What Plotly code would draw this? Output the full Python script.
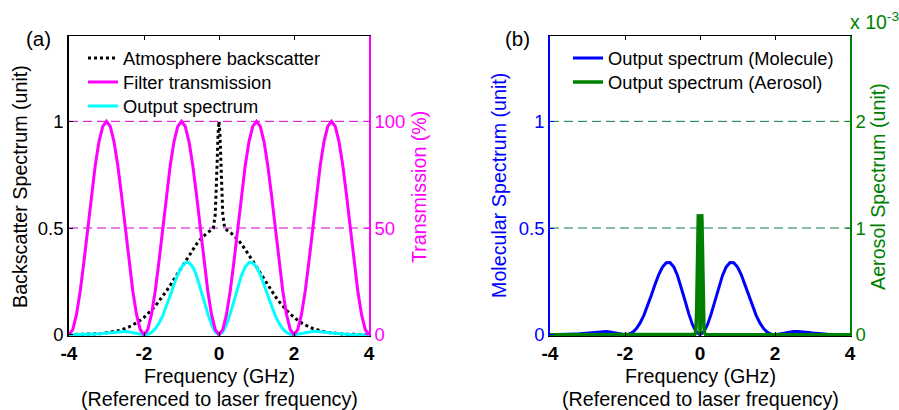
import plotly.graph_objects as go

# ---------------- data ----------------
freq = [-4.0, -3.9, -3.8, -3.7, -3.6, -3.5, -3.4, -3.3, -3.2, -3.1,
        -3.0, -2.9, -2.8, -2.7, -2.6, -2.5, -2.4, -2.3, -2.2, -2.1,
        -2.0, -1.9, -1.8, -1.7, -1.6, -1.5, -1.4, -1.3, -1.2, -1.1,
        -1.0, -0.9, -0.8, -0.7, -0.6, -0.5, -0.4, -0.3, -0.2, -0.1,
        0.0, 0.1, 0.2, 0.3, 0.4, 0.5, 0.6, 0.7, 0.8, 0.9,
        1.0, 1.1, 1.2, 1.3, 1.4, 1.5, 1.6, 1.7, 1.8, 1.9,
        2.0, 2.1, 2.2, 2.3, 2.4, 2.5, 2.6, 2.7, 2.8, 2.9,
        3.0, 3.1, 3.2, 3.3, 3.4, 3.5, 3.6, 3.7, 3.8, 3.9, 4.0]

transmission = [0, 2.4, 9.5, 20.6, 34.5, 50, 65.5, 79.4, 90.5, 97.6,
                100, 97.6, 90.5, 79.4, 65.5, 50, 34.5, 20.6, 9.5, 2.4,
                0, 2.4, 9.5, 20.6, 34.5, 50, 65.5, 79.4, 90.5, 97.6,
                100, 97.6, 90.5, 79.4, 65.5, 50, 34.5, 20.6, 9.5, 2.4,
                0, 2.4, 9.5, 20.6, 34.5, 50, 65.5, 79.4, 90.5, 97.6,
                100, 97.6, 90.5, 79.4, 65.5, 50, 34.5, 20.6, 9.5, 2.4,
                0, 2.4, 9.5, 20.6, 34.5, 50, 65.5, 79.4, 90.5, 97.6,
                100, 97.6, 90.5, 79.4, 65.5, 50, 34.5, 20.6, 9.5, 2.4, 0]

output_spectrum = [0, 0, 0.0001, 0.0002, 0.0005, 0.0010, 0.0017, 0.0028, 0.0043, 0.0061,
                   0.0084, 0.0106, 0.0128, 0.0144, 0.0151, 0.0146, 0.0126, 0.0093, 0.0053, 0.0017,
                   0, 0.0024, 0.0109, 0.0277, 0.0540, 0.0899, 0.1342, 0.1841, 0.2350, 0.2814,
                   0.3174, 0.3375, 0.3381, 0.3177, 0.2778, 0.2232, 0.1606, 0.0989, 0.0469, 0.0130,
                   0, 0.0130, 0.0469, 0.0989, 0.1606, 0.2232, 0.2778, 0.3177, 0.3381, 0.3375,
                   0.3174, 0.2814, 0.2350, 0.1841, 0.1342, 0.0899, 0.0540, 0.0277, 0.0109, 0.0024,
                   0, 0.0017, 0.0053, 0.0093, 0.0126, 0.0146, 0.0151, 0.0144, 0.0128, 0.0106,
                   0.0084, 0.0061, 0.0043, 0.0028, 0.0017, 0.0010, 0.0005, 0.0002, 0.0001, 0, 0]

bs_freq = [-4.0, -3.9, -3.8, -3.7, -3.6, -3.5, -3.4, -3.3, -3.2, -3.1,
           -3.0, -2.9, -2.8, -2.7, -2.6, -2.5, -2.4, -2.3, -2.2, -2.1,
           -2.0, -1.9, -1.8, -1.7, -1.6, -1.5, -1.4, -1.3, -1.2, -1.1,
           -1.0, -0.9, -0.8, -0.7, -0.6, -0.5, -0.4, -0.3, -0.2, -0.15,
           -0.1, -0.075, -0.05, -0.025, 0.0, 0.025, 0.05, 0.075, 0.1,
           0.15, 0.2, 0.3, 0.4, 0.5, 0.6, 0.7, 0.8, 0.9,
           1.0, 1.1, 1.2, 1.3, 1.4, 1.5, 1.6, 1.7, 1.8, 1.9,
           2.0, 2.1, 2.2, 2.3, 2.4, 2.5, 2.6, 2.7, 2.8, 2.9,
           3.0, 3.1, 3.2, 3.3, 3.4, 3.5, 3.6, 3.7, 3.8, 3.9, 4.0]
backscatter = [0.0003, 0.0005, 0.0007, 0.0010, 0.0014, 0.0019, 0.0026, 0.0035, 0.0048, 0.0063,
               0.0084, 0.0109, 0.0142, 0.0182, 0.0231, 0.0292, 0.0365, 0.0452, 0.0554, 0.0674,
               0.0812, 0.0969, 0.1146, 0.1344, 0.1562, 0.1798, 0.2051, 0.2319, 0.2598, 0.2885,
               0.3174, 0.3460, 0.3738, 0.4002, 0.4245, 0.4463, 0.4649, 0.4800, 0.4912, 0.5005,
               0.5654, 0.6610, 0.8027, 0.9411, 1.0, 0.9411, 0.8027, 0.6610, 0.5654,
               0.5005, 0.4912, 0.4800, 0.4649, 0.4463, 0.4245, 0.4002, 0.3738, 0.3460,
               0.3174, 0.2885, 0.2598, 0.2319, 0.2051, 0.1798, 0.1562, 0.1344, 0.1146, 0.0969,
               0.0812, 0.0674, 0.0554, 0.0452, 0.0365, 0.0292, 0.0231, 0.0182, 0.0142, 0.0109,
               0.0084, 0.0063, 0.0048, 0.0035, 0.0026, 0.0019, 0.0014, 0.0010, 0.0007, 0.0005, 0.0003]

molecule_output = output_spectrum

aer_freq = [-4.0, -0.15, -0.135, -0.12, -0.105, -0.09, -0.075, -0.0675, -0.06, -0.0525, -0.045,
            -0.0375, -0.03, -0.0225, -0.015, -0.0075, 0.0, 0.0075, 0.015, 0.0225, 0.03, 0.0375,
            0.045, 0.0525, 0.06, 0.0675, 0.075, 0.09, 0.105, 0.12, 0.135, 0.15, 4.0]
aerosol_output = [0, 0, 0.000004, 0.000018, 0.000073, 0.000227, 0.000534, 0.000732, 0.000925,
                  0.001073, 0.00113, 0.001064, 0.000874, 0.000597, 0.000304, 0.000083, 0,
                  0.000083, 0.000304, 0.000597, 0.000874, 0.001064, 0.00113, 0.001073,
                  0.000925, 0.000732, 0.000534, 0.000227, 0.000073, 0.000018, 0.000004, 0, 0]

x_ticks = [-4, -2, 0, 2, 4]
x_ticktext = ['-4', '-2', '0', '2', '4']
grid_levels = [0.5, 1.0]

# ---------------- layout helpers ----------------
W, H = 899, 410
def px(x):
    return x / W
def py(y):
    return 1 - y / H

FONT = "Liberation Sans, Arial, sans-serif"
FS = 18.5      # y tick labels
FT = 19.7      # titles / annotations
FL = 18.3      # legend
MAG = '#ff00ff'
CYAN = '#00ffff'
BLUE = '#0000ff'
GREEN = '#008000'

fig = go.Figure()
fig.add_trace(go.Scatter(x=bs_freq, y=backscatter, xaxis='x', yaxis='y', mode='lines',
                         name='Atmosphere backscatter', legend='legend',
                         line=dict(color='black', width=3, dash='dot')))
fig.add_trace(go.Scatter(x=freq, y=transmission, xaxis='x', yaxis='y2', mode='lines',
                         name='Filter transmission', legend='legend2',
                         line=dict(color=MAG, width=3)))
fig.add_trace(go.Scatter(x=freq, y=output_spectrum, xaxis='x', yaxis='y', mode='lines',
                         name='Output spectrum', legend='legend3',
                         line=dict(color=CYAN, width=3)))
fig.add_trace(go.Scatter(x=freq, y=molecule_output, xaxis='x2', yaxis='y3', mode='lines',
                         name='Output spectrum (Molecule)', legend='legend4',
                         line=dict(color=BLUE, width=3)))
fig.add_trace(go.Scatter(x=aer_freq, y=aerosol_output, xaxis='x2', yaxis='y4', mode='lines',
                         name='Output spectrum (Aerosol)', legend='legend5',
                         line=dict(color=GREEN, width=3.5)))

ydom = [py(336), py(36)]
common_x = dict(range=[-4, 4], tickvals=x_ticks, ticktext=x_ticktext, showline=True,
                linecolor='black', linewidth=1, mirror='ticks', ticks='inside', ticklen=4,
                tickcolor='black', showgrid=False, zeroline=False,
                tickfont=dict(family=FONT, size=19, color='black', weight='bold'))
def yax(color, rng, tv, tt, **kw):
    d = dict(range=rng, tickvals=tv, ticktext=tt, showline=True, linecolor=color,
             linewidth=1.5, ticks='inside', ticklen=4, tickcolor=color, zeroline=False,
             showgrid=False, tickfont=dict(family=FONT, size=FS, color=color))
    d.update(kw)
    return d

def leg(x, yc):
    return dict(x=px(x), y=py(yc), xanchor='left', yanchor='middle', bgcolor='rgba(0,0,0,0)',
                borderwidth=0, font=dict(family=FONT, size=FL, color='black'))

fig.update_layout(
    width=W, height=H, margin=dict(l=0, r=0, t=0, b=0, pad=0, autoexpand=False),
    paper_bgcolor='white', plot_bgcolor='white',
    font=dict(family=FONT, size=FS, color='black'),
    xaxis=dict(domain=[px(69), px(369)], anchor='y', **common_x),
    yaxis=yax('black', [-0.006, 1.4], [0, 0.5, 1], ['0', '0.5', '1'], domain=ydom, anchor='x'),
    yaxis2=yax(MAG, [-0.6, 140], [0, 50, 100], ['0', '50', '100'],
               overlaying='y', side='right', anchor='x'),
    xaxis2=dict(domain=[px(550), px(850)], anchor='y3', **common_x),
    yaxis3=yax(BLUE, [-0.006, 1.4], [0, 0.5, 1], ['0', '0.5', '1'], domain=ydom, anchor='x2'),
    yaxis4=yax(GREEN, [-0.000012, 0.0028], [0, 0.001, 0.002], ['0', '1', '2'],
               overlaying='y3', side='right', anchor='x2'),
    legend=leg(83, 58), legend2=leg(83, 82), legend3=leg(83, 106),
    legend4=leg(568, 58), legend5=leg(568, 82),
    showlegend=True,
)

# dashed horizontal grid lines (drawn below the curves)
for lv in grid_levels:
    fig.add_shape(type='line', xref='x domain', yref='y', x0=0, x1=1, y0=lv, y1=lv,
                  layer='below', line=dict(color='#d000d0', width=1, dash='9px,5px'))
    fig.add_shape(type='line', xref='x2 domain', yref='y3', x0=0, x1=1, y0=lv, y1=lv,
                  layer='below', line=dict(color='#14784a', width=1, dash='9px,5px'))

def ann(text, x, y, color='black', angle=0, size=FT, xanchor='center', yanchor='middle'):
    fig.add_annotation(text=text, x=px(x), y=py(y), xref='paper', yref='paper',
                       showarrow=False, textangle=angle, xanchor=xanchor, yanchor=yanchor,
                       font=dict(family=FONT, size=size, color=color))

ann('(a)', 38, 39, size=20.5)
ann('(b)', 517, 39, size=20.5)
ann('Frequency (GHz)', 219, 376)
ann('(Referenced to laser frequency)', 219, 399)
ann('Frequency (GHz)', 700, 376)
ann('(Referenced to laser frequency)', 700, 399)
ann('Backscatter Spectrum (unit)', 20, 187, angle=-90)
ann('Transmission (%)', 419, 187, color=MAG, angle=-90)
ann('Molecular Spectrum (unit)', 499, 186, color=BLUE, angle=-90)
ann('Aerosol Spectrum (unit)', 878, 187, color=GREEN, angle=-90)
ann('x 10<sup>-3</sup>', 848, 35, color=GREEN, size=19.5, xanchor='left', yanchor='bottom')

page_fix = """
document.documentElement.style.margin='0';document.documentElement.style.padding='0';
document.body.style.margin='0';document.body.style.padding='0';
document.documentElement.style.overflow='hidden';document.body.style.overflow='hidden';
"""
fig.write_html("out.html", config={'displayModeBar': False}, post_script=page_fix)
